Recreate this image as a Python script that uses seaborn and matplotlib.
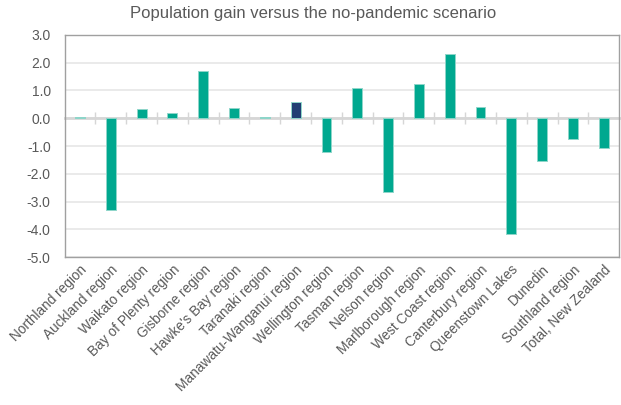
import matplotlib
matplotlib.use("Agg")
import matplotlib.pyplot as plt
import numpy as np
import pandas as pd
import seaborn as sns

regions = [
    "Northland region", "Auckland region", "Waikato region", "Bay of Plenty region",
    "Gisborne region", "Hawke's Bay region", "Taranaki region",
    "Manawatu-Wanganui region", "Wellington region", "Tasman region",
    "Nelson region", "Marlborough region", "West Coast region",
    "Canterbury region", "Queenstown Lakes", "Dunedin", "Southland region",
    "Total, New Zealand",
]
gain = [0.03, -3.30, 0.33, 0.17, 1.70, 0.37, 0.03, 0.60, -1.23, 1.07,
        -2.65, 1.22, 2.30, 0.40, -4.15, -1.55, -0.75, -1.07]
highlighted = ["Manawatu-Wanganui region"]
y_ticks = [3.0, 2.0, 1.0, 0.0, -1.0, -2.0, -3.0, -4.0, -5.0]

TEAL = "#00A88F"
NAVY = "#213F73"
TEXT = "#595959"
GRID = "#E8E8E8"
FRAME = "#A0A0A0"
ZERO = "#D6D6D6"

df = pd.DataFrame({"region": regions, "gain": gain})
df["group"] = np.where(df["region"].isin(highlighted), "hi", "base")

sns.set_theme(style="white")
plt.rcParams["font.family"] = ["Liberation Sans", "DejaVu Sans"]

fig = plt.figure(figsize=(6.21, 4.05), dpi=100)
ax = fig.add_axes([0.104, 0.365, 0.893, 0.549])

sns.barplot(data=df, x="region", y="gain", hue="group",
            palette={"base": TEAL, "hi": NAVY}, saturation=1, width=0.32,
            edgecolor="#8FD6CA", linewidth=0.7, legend=False, ax=ax, zorder=3)

ax.set_ylim(-5.0, 3.0)
ax.set_xlim(-0.5, len(regions) - 0.5)
ax.set_yticks(y_ticks)
ax.set_yticklabels([f"{v:.1f}" for v in y_ticks])
ax.yaxis.grid(True, color=GRID, linewidth=1.3, zorder=0)
ax.set_axisbelow(True)
ax.set_xlabel("")
ax.set_ylabel("")

ax.tick_params(axis="y", length=0, pad=10, labelsize=10, labelcolor=TEXT)
ax.tick_params(axis="x", length=0, pad=4, labelsize=9.8, labelcolor=TEXT)
plt.setp(ax.get_xticklabels(), rotation=45, ha="right", rotation_mode="anchor")

for side in ["left", "right", "top", "bottom"]:
    ax.spines[side].set_visible(True)
    ax.spines[side].set_color(FRAME)
    ax.spines[side].set_linewidth(1.0)

# zero axis with category separator ticks
zero_axis = ax.secondary_xaxis(0, transform=ax.transData)
zero_axis.set_xticks(np.arange(0.5, len(regions) - 1, 1.0))
zero_axis.set_xticklabels([])
zero_axis.tick_params(axis="x", direction="inout", length=9, width=1.0,
                      color=ZERO)
zero_axis.spines["bottom"].set_color(ZERO)
zero_axis.spines["bottom"].set_linewidth(2.0)
zero_axis.set_zorder(1)

fig.suptitle("Population gain versus the no-pandemic scenario",
             x=0.505, y=0.985, fontsize=12, color=TEXT)

fig.savefig("out.png", dpi=100)
